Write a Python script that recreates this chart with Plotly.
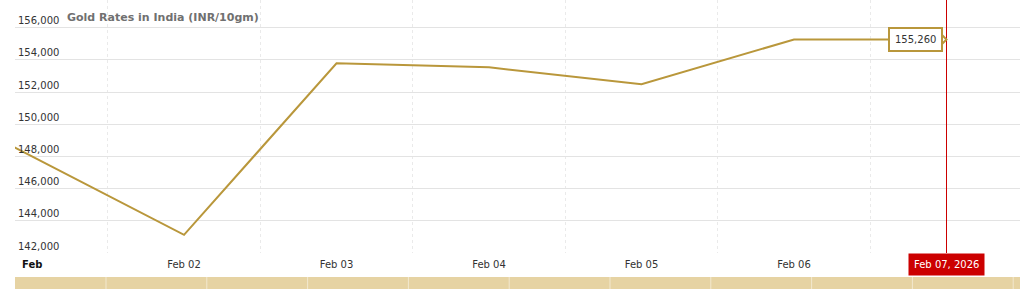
import plotly.graph_objects as go

# ---- data ----
dates = ["2026-01-31", "2026-02-02", "2026-02-03", "2026-02-04", "2026-02-05", "2026-02-06", "2026-02-07"]
rates = [152900, 143130, 153780, 153530, 152480, 155260, 155260]

tick_dates = ["2026-02-02", "2026-02-03", "2026-02-04", "2026-02-05", "2026-02-06"]
tick_text = ["Feb 02", "Feb 03", "Feb 04", "Feb 05", "Feb 06"]
month_date = "2026-02-01"
month_text = "Feb"
grid_dates = ["2026-02-01 12:00", "2026-02-02 12:00", "2026-02-03 12:00",
              "2026-02-04 12:00", "2026-02-05 12:00", "2026-02-06 12:00"]
y_ticks = [142000, 144000, 146000, 148000, 150000, 152000, 154000, 156000]

title_text = "Gold Rates in India (INR/10gm)"
last_date = "2026-02-07"
last_label = "Feb 07, 2026"
last_value = 155260

x_range = ["2026-01-31 21:24", "2026-02-07 11:34"]
y_range = [142000, 157714]

GOLD = "#B9973B"
RED = "#CC0000"
FONT = "DejaVu Sans"

fig = go.Figure()
fig.add_trace(go.Scatter(x=dates, y=rates, mode="lines",
                         line=dict(color=GOLD, width=2), hoverinfo="skip"))

fig.update_layout(
    width=1024, height=289,
    margin=dict(l=15, r=4, t=0, b=36),
    paper_bgcolor="white", plot_bgcolor="white",
    showlegend=False,
    font=dict(family=FONT, size=10, color="#333333"),
    title=dict(text="<b>" + title_text + "</b>", x=67 / 1024, xanchor="left",
               y=1 - 17 / 289, yanchor="middle", xref="container", yref="container",
               font=dict(family=FONT, size=11, color="#707070")),
)

fig.update_xaxes(
    type="date", range=x_range,
    tickmode="array", tickvals=tick_dates, ticktext=tick_text,
    showgrid=False, zeroline=False, showline=False, ticks="",
    ticklabelstandoff=4,
    tickfont=dict(family=FONT, size=10, color="#333333"),
    minor=dict(tickmode="array", tickvals=grid_dates, showgrid=True,
               gridcolor="#EAEAEA", griddash="dot", gridwidth=1, ticks=""),
)
fig.update_yaxes(
    range=y_range, tickmode="array", tickvals=y_ticks, tickformat=",",
    ticklabelposition="inside top", showgrid=True, gridcolor="#E3E3E3", gridwidth=1,
    zeroline=False, showline=False, ticks="",
    tickfont=dict(family=FONT, size=10, color="#333333"),
)

# month label (bold) at the first day
fig.add_annotation(x=month_date, y=0, xref="x", yref="paper", yanchor="top",
                   yshift=-4, text="<b>" + month_text + "</b>", showarrow=False,
                   font=dict(family=FONT, size=10, color="#111111"))

# crosshair line
fig.add_shape(type="line", xref="x", yref="paper", x0=last_date, x1=last_date,
              y0=0, y1=1, line=dict(color=RED, width=1))

# navigator band
fig.add_shape(type="rect", xref="paper", yref="paper", ysizemode="pixel", yanchor=0,
              x0=0, x1=1, y0=-24, y1=-40, fillcolor="#E6D3A3", line=dict(width=0), layer="below")
px = 106
while px < 1020:
    xp = (px - 15) / 1005
    fig.add_shape(type="line", xref="paper", yref="paper", ysizemode="pixel", yanchor=0,
                  x0=xp, x1=xp, y0=-24, y1=-40, line=dict(color="#F2E8CF", width=1))
    px += 100.8

# bottom date label
fig.add_annotation(x=last_date, y=0, xref="x", yref="paper", yanchor="top",
                   text=last_label, showarrow=False, bgcolor=RED, borderpad=5,
                   font=dict(family=FONT, size=10, color="white"))

# tooltip
fig.add_annotation(x=last_date, y=last_value, xref="x", yref="y", xanchor="right",
                   xshift=-4, text=f"{last_value:,}", showarrow=False,
                   bgcolor="white", bordercolor=GOLD, borderwidth=2, borderpad=5,
                   font=dict(family=FONT, size=10, color="#333333"))
fig.add_shape(type="path", xref="x", yref="y", xsizemode="pixel", ysizemode="pixel",
              xanchor=last_date, yanchor=last_value,
              path="M -5 5 L 0 0 L -5 -5 Z", fillcolor="white",
              line=dict(color=GOLD, width=2))

fig.write_html("out.html")
